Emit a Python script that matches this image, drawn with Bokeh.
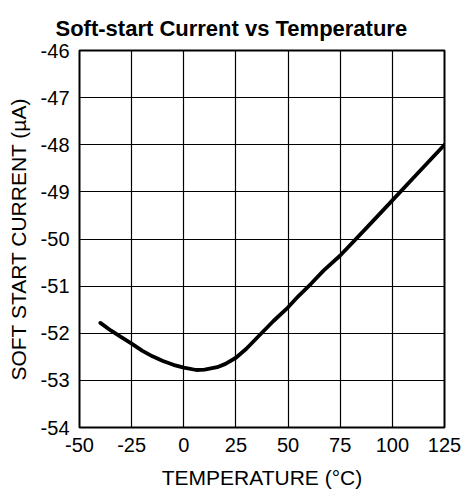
from bokeh.plotting import figure
from bokeh.models import FixedTicker, Range1d
from bokeh.embed import file_html
from bokeh.resources import INLINE

temps = [-40, -35, -30, -25, -20, -15, -10, -5, 0, 6, 10, 16, 20, 25, 30, 37, 43, 50, 55, 61, 67,
         75, 87.5, 100, 112.5, 125]
current = [-51.78, -51.94, -52.08, -52.22, -52.37, -52.49, -52.59, -52.67, -52.73, -52.78, -52.77,
           -52.72, -52.65, -52.52, -52.33, -52.01, -51.74, -51.45, -51.21, -50.95, -50.67,
           -50.35, -49.77, -49.18, -48.59, -48.0]
x_ticks = [-50, -25, 0, 25, 50, 75, 100, 125]
y_ticks = [-54, -53, -52, -51, -50, -49, -48, -47, -46]

FONT = "Liberation Sans"

p = figure(width=465, height=499, output_backend="svg", toolbar_location=None,
           x_range=Range1d(-50, 125), y_range=Range1d(-54, -46),
           min_border_left=79, min_border_right=21, min_border_top=50, min_border_bottom=72)

p.title.text = "Soft-start Current vs Temperature"
p.title.align = "left"
p.title.offset = -24
p.title.text_font = FONT
p.title.text_font_size = "22px"
p.title.text_font_style = "bold"
p.title.text_color = "black"
p.title.standoff = 20

p.line(temps, current, line_color="black", line_width=3.8, line_join="round", line_cap="round")

for ax in (p.xaxis[0], p.yaxis[0]):
    ax.axis_line_color = None
    ax.major_tick_in = 0
    ax.major_tick_out = 0
    ax.minor_tick_in = 0
    ax.minor_tick_out = 0
    ax.major_label_text_font = FONT
    ax.major_label_text_font_size = "20px"
    ax.major_label_text_color = "black"
    ax.axis_label_text_font = FONT
    ax.axis_label_text_font_size = "21px"
    ax.axis_label_text_font_style = "normal"
    ax.axis_label_text_color = "black"

p.xaxis.ticker = FixedTicker(ticks=x_ticks)
p.yaxis.ticker = FixedTicker(ticks=y_ticks)
p.xaxis.major_label_overrides = {t: str(t) for t in x_ticks}
p.yaxis.major_label_overrides = {t: str(t) for t in y_ticks}
p.xaxis.axis_label = "TEMPERATURE (\u00b0C)"
p.yaxis.axis_label = "SOFT START CURRENT (\u00b5A)"
p.xaxis.major_label_standoff = 10
p.yaxis.major_label_standoff = 10
p.xaxis.axis_label_standoff = 11
p.yaxis.axis_label_standoff = 8

p.xgrid.ticker = FixedTicker(ticks=x_ticks)
p.ygrid.ticker = FixedTicker(ticks=y_ticks)
p.grid.grid_line_color = "black"
p.grid.grid_line_width = 1.2
p.grid.grid_line_alpha = 1.0

p.outline_line_color = "black"
p.outline_line_width = 2
p.background_fill_color = "white"
p.border_fill_color = "white"

open("out.html", "w").write(file_html(p, INLINE))
